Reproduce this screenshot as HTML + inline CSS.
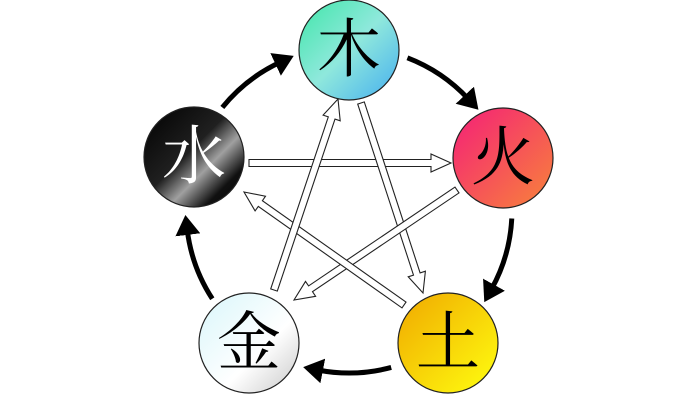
<!DOCTYPE html>
<html><head><meta charset="utf-8"><style>
html,body{margin:0;padding:0;background:#fff;width:698px;height:400px;overflow:hidden}
text{font-family:"Liberation Serif","Noto Serif CJK SC",serif;font-size:64px;text-anchor:middle;dominant-baseline:central}
</style></head><body>
<svg id="s" width="698" height="400" viewBox="0 0 698 400" xmlns="http://www.w3.org/2000/svg">
<defs>
<linearGradient id="gw" x1="0" y1="0" x2="1" y2="1"><stop offset="0" stop-color="#3fe6a8"/><stop offset="0.5" stop-color="#8fe8dc"/><stop offset="1" stop-color="#44aef0"/></linearGradient>
<linearGradient id="gf" x1="0" y1="0" x2="1" y2="1"><stop offset="0" stop-color="#f41f78"/><stop offset="1" stop-color="#f8843a"/></linearGradient>
<linearGradient id="ge" x1="0" y1="0" x2="1" y2="1"><stop offset="0" stop-color="#f0a800"/><stop offset="1" stop-color="#ffff10"/></linearGradient>
<linearGradient id="gm" x1="0" y1="0" x2="1" y2="1"><stop offset="0" stop-color="#d8f6fa"/><stop offset="0.6" stop-color="#ffffff"/><stop offset="1" stop-color="#c8c8c8"/></linearGradient>
<linearGradient id="gwa" x1="0" y1="0" x2="1" y2="1"><stop offset="0" stop-color="#000"/><stop offset="0.45" stop-color="#202020"/><stop offset="0.62" stop-color="#a0a0a0"/><stop offset="0.8" stop-color="#111"/><stop offset="1" stop-color="#000"/></linearGradient>
<marker id="ah" markerWidth="5" markerHeight="5" refX="1" refY="2.5" orient="auto" markerUnits="strokeWidth"><path d="M0,0 L4,2.5 L0,5 Z" fill="#000"/></marker>
</defs>
<g id="arcs"></g>
<g id="stars"></g>
<g stroke="#222" stroke-width="1.2">
<circle cx="349" cy="50" r="50" fill="url(#gw)"/>
<circle cx="503" cy="158" r="50" fill="url(#gf)"/>
<circle cx="448" cy="343" r="50" fill="url(#ge)"/>
<circle cx="249" cy="343" r="50" fill="url(#gm)"/>
<circle cx="194" cy="157" r="50" fill="url(#gwa)"/>
</g>
<text x="349" y="50">木</text>
<text x="503" y="158">火</text>
<text x="448" y="343">土</text>
<text x="249" y="343">金</text>
<text x="194" y="157" fill="#fff">水</text>
</svg>
<script>
var NS="http://www.w3.org/2000/svg";
var cx=349,cy=210,R=163;
var arcs=document.getElementById("arcs");
var nodes=[-90,-18,54,126,198];
function pt(a){a=a*Math.PI/180;return [cx+R*Math.cos(a),cy+R*Math.sin(a)];}
for(var i=0;i<5;i++){
 var a0=nodes[i]+21,a1=nodes[i]+72-25;
 var p0=pt(a0),p1=pt(a1);
 var p=document.createElementNS(NS,"path");
 p.setAttribute("d","M"+p0[0]+","+p0[1]+" A"+R+","+R+" 0 0 1 "+p1[0]+","+p1[1]);
 p.setAttribute("fill","none");p.setAttribute("stroke","#000");p.setAttribute("stroke-width","5");
 p.setAttribute("marker-end","url(#ah)");
 arcs.appendChild(p);
}
var st=document.getElementById("stars");
var L=[[249,163,451,163],[361,103,423,293],[457,190,294,300],[404,305,244,192],[274,290,338,99]];
L.forEach(function(l){
 var x0=l[0],y0=l[1],x1=l[2],y1=l[3];
 var dx=x1-x0,dy=y1-y0,len=Math.hypot(dx,dy),ux=dx/len,uy=dy/len,nx=-uy,ny=ux;
 var w=3.5,hw=9,hl=20;
 var bx=x1-ux*hl,by=y1-uy*hl;
 var P=[[x0+nx*w,y0+ny*w],[bx+nx*w,by+ny*w],[bx+nx*hw,by+ny*hw],[x1,y1],[bx-nx*hw,by-ny*hw],[bx-nx*w,by-ny*w],[x0-nx*w,y0-ny*w]];
 var pg=document.createElementNS(NS,"polygon");
 pg.setAttribute("points",P.map(function(q){return q[0].toFixed(1)+","+q[1].toFixed(1)}).join(" "));
 pg.setAttribute("fill","#fff");pg.setAttribute("stroke","#222");pg.setAttribute("stroke-width","1.1");
 st.appendChild(pg);
});
</script>
</body></html>
